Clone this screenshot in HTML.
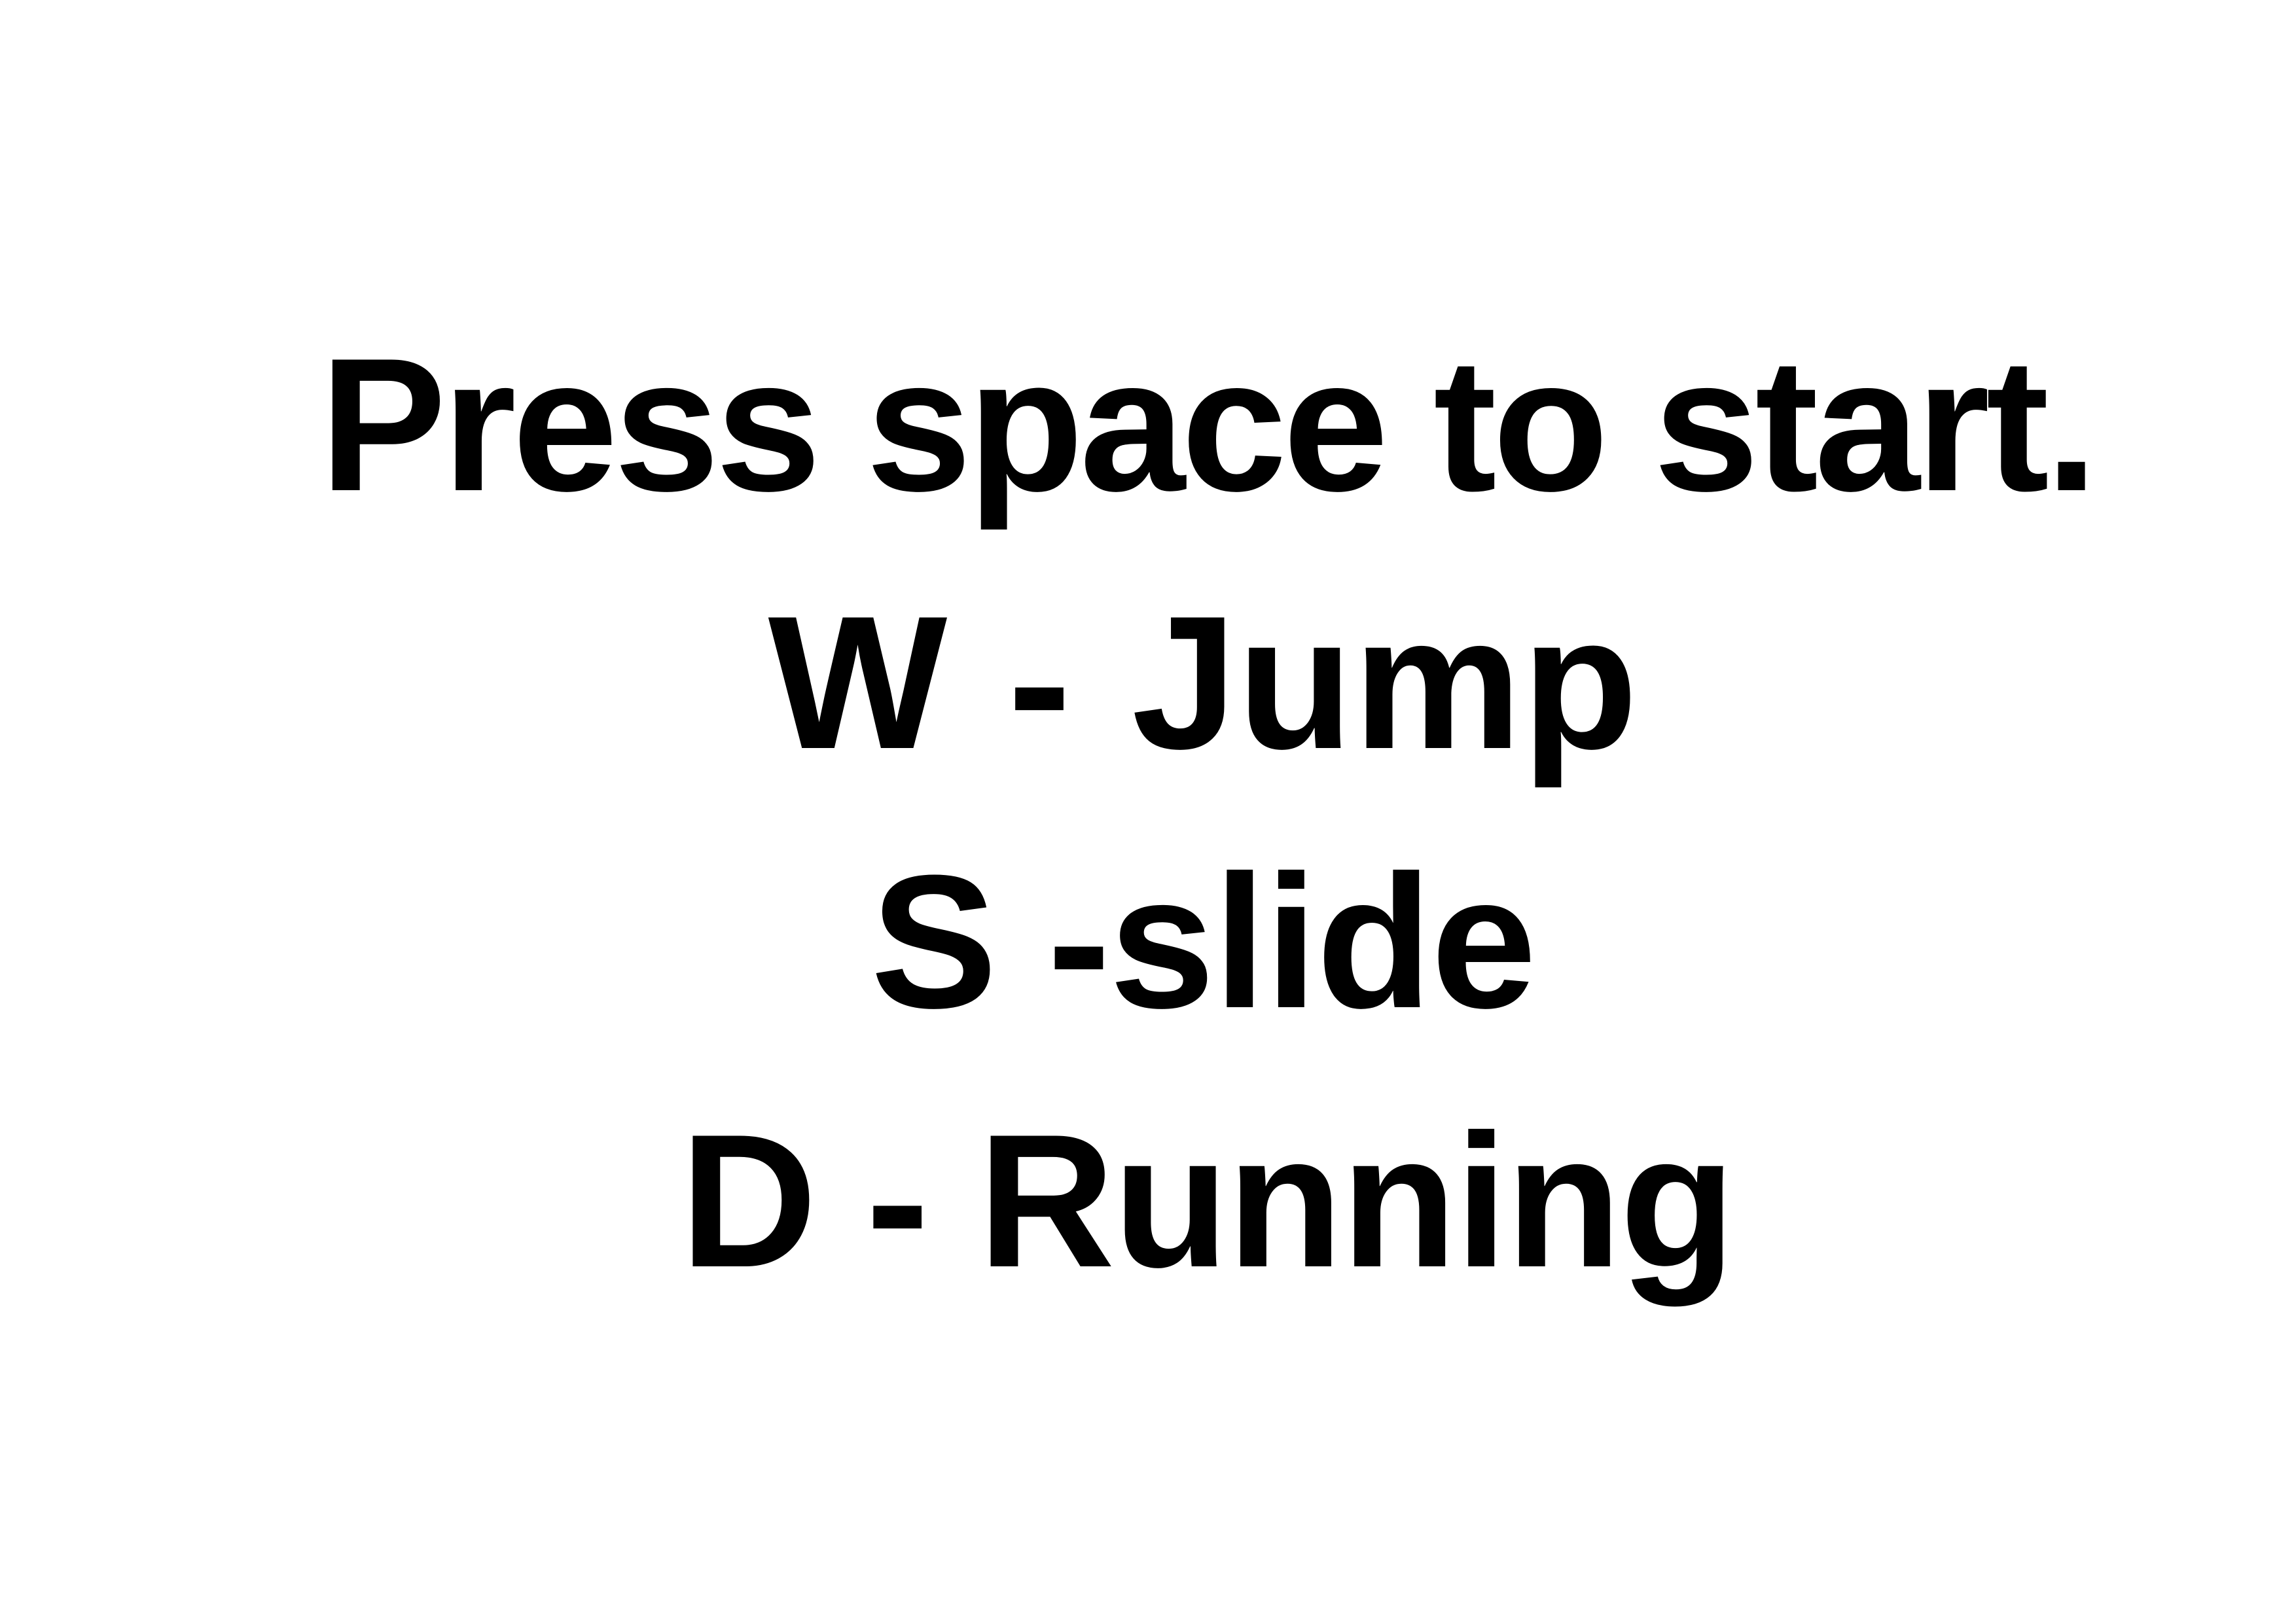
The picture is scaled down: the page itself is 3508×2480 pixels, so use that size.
<!DOCTYPE html>
<html>
<head>
<meta charset="utf-8">
<style>
html,body{margin:0;padding:0;background:#fff;}
body{width:3508px;height:2480px;position:relative;overflow:hidden;}
.line{position:absolute;left:90px;width:3508px;text-align:center;font-family:"Liberation Sans",sans-serif;font-weight:bold;font-size:290px;line-height:324px;color:#000;letter-spacing:-6px;white-space:pre;}
</style>
</head>
<body>
<div class="line" style="top:487px;">Press space to start.</div>
<div class="line" style="top:881px;letter-spacing:0px;word-spacing:12px;left:84px;">W - Jump</div>
<div class="line" style="top:1277px;letter-spacing:-2px;left:84px;">S -slide</div>
<div class="line" style="top:1673px;letter-spacing:-3px;">D - Running</div>
</body>
</html>
